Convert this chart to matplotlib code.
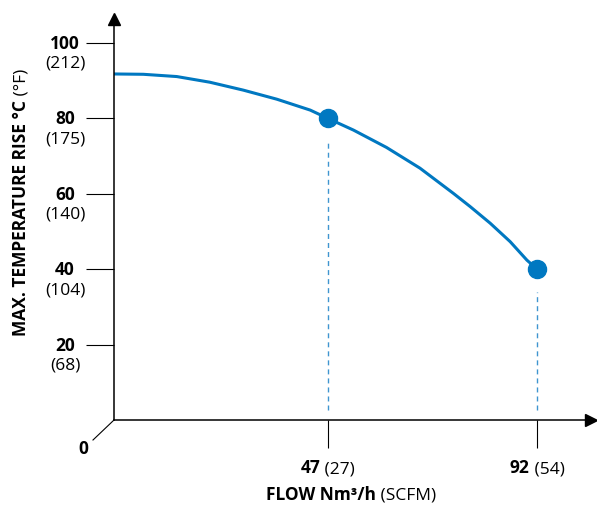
import matplotlib
matplotlib.use("Agg")
import matplotlib.pyplot as plt
from matplotlib.transforms import IdentityTransform

# curve (flow Nm3/h, max. temperature rise °C)
flow = [0, 7.3, 14.5, 21.6, 28.8, 36.0, 43.2, 47, 52.5, 59.6, 66.8, 74.0,
        77.6, 81.9, 86.2, 89.8, 92]
temp = [91.8, 91.7, 91.1, 89.6, 87.5, 85.1, 82.2, 80, 76.9, 72.3, 66.8, 60.1,
        56.6, 52.2, 47.3, 42.4, 40]

# highlighted operating points
point_flow = [47, 92]
point_temp = [80, 40]
point_scfm = ["(27)", "(54)"]

y_ticks = [20, 40, 60, 80, 100]
y_ticks_f = ["(68)", "(104)", "(140)", "(175)", "(212)"]

BLUE = "#0078c1"
DASH = "#3f95d0"
W, H = 597, 505

plt.rcParams["font.family"] = ["Open Sans", "DejaVu Sans"]
plt.rcParams["font.size"] = 12.5

fig = plt.figure(figsize=(W / 100, H / 100), dpi=100)
ax = fig.add_axes([114 / W, 85 / H, 477 / W, 401 / H])
ax.set_xlim(1, 1 + 477 / 4.65)
ax.set_ylim(0, 401 / 3.77)

for side in ["top", "right"]:
    ax.spines[side].set_visible(False)
for side in ["left", "bottom"]:
    ax.spines[side].set_linewidth(1.1)
    ax.spines[side].set_color("black")

ax.set_xticks(point_flow)
ax.set_yticks(y_ticks)
ax.tick_params(length=20, width=0.8, direction="out", labelleft=False,
               labelbottom=False)

# arrow heads on the axes
ax.plot(1, 0, marker=">", color="black", ms=8, transform=ax.transAxes,
        clip_on=False)
ax.plot(0, 1, marker="^", color="black", ms=8, transform=ax.transAxes,
        clip_on=False)

ax.plot(flow, temp, color=BLUE, lw=2.2, solid_capstyle="butt",
        solid_joinstyle="round")
ax.vlines(point_flow, 2.7, [t - 6 for t in point_temp], colors=DASH, lw=1,
          linestyles=(0, (3.6, 2.9)))
ax.plot(point_flow, point_temp, "o", color=BLUE, ms=13, zorder=5)

fig.canvas.draw()
r = fig.canvas.get_renderer()


def ptext(x, y, s, **kw):
    return fig.text(x, y, s, transform=IdentityTransform(), **kw)


def pair(cx, base, bold, normal):
    tb = ptext(0, base, bold, weight="bold", va="baseline", ha="left")
    tn = ptext(0, base, " " + normal, va="baseline", ha="left")
    wb = tb.get_window_extent(r).width
    wn = tn.get_window_extent(r).width
    left = cx - (wb + wn) / 2
    tb.set_x(left)
    tn.set_x(left + wb)


# y tick labels: °C bold, °F below
for v, f in zip(y_ticks, y_ticks_f):
    ty = ax.transData.transform((1, v))[1]
    ptext(65, ty - 6, str(v), weight="bold", ha="center", va="baseline")
    ptext(65, ty - 25, f, ha="center", va="baseline")

# x tick labels: Nm3/h bold, SCFM normal
for x, s in zip(point_flow, point_scfm):
    tx = ax.transData.transform((x, 0))[0]
    pair(tx, 32, str(x), s)

pair(351, 5, "FLOW Nm³/h", "(SCFM)")

# origin label with its small leader
ptext(83, 51, "0", weight="bold", ha="center", va="baseline")
ox, oy = ax.transAxes.transform((0, 0))
fig.add_artist(plt.Line2D([93, ox], [65, oy], color="black", lw=0.8,
                          transform=IdentityTransform()))

# rotated y label, bold part then normal part
lb = ptext(26, 0, "MAX. TEMPERATURE RISE °C", weight="bold", rotation=90,
           rotation_mode="anchor", ha="left", va="baseline")
ln = ptext(26, 0, " (°F)", rotation=90, rotation_mode="anchor", ha="left",
           va="baseline")
hb = lb.get_window_extent(r).height
hn = ln.get_window_extent(r).height
start = (H - 202) - (hb + hn) / 2
lb.set_y(start)
ln.set_y(start + hb)

fig.savefig("out.png", dpi=100)
